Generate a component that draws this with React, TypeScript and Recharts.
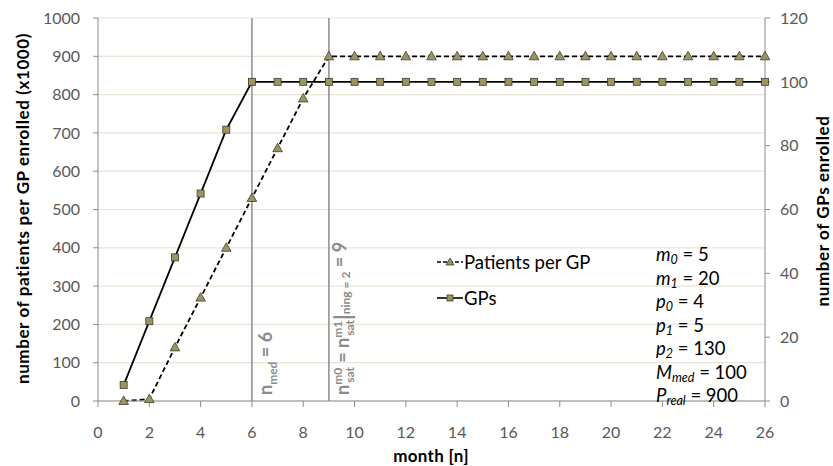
import React from "react";
import {
  ComposedChart,
  Line,
  XAxis,
  YAxis,
  CartesianGrid,
  ReferenceLine,
} from "recharts";

// months 1..26
const months = [
  1, 2, 3, 4, 5, 6, 7, 8, 9, 10, 11, 12, 13, 14, 15, 16, 17, 18, 19, 20, 21,
  22, 23, 24, 25, 26,
];
// patients per GP enrolled (x1000), left axis
const patientsPerGP = [
  0, 5, 140, 270, 400, 530, 660, 790, 900, 900, 900, 900, 900, 900, 900, 900,
  900, 900, 900, 900, 900, 900, 900, 900, 900, 900,
];
// GPs enrolled, right axis
const gps = [
  5, 25, 45, 65, 85, 100, 100, 100, 100, 100, 100, 100, 100, 100, 100, 100, 100,
  100, 100, 100, 100, 100, 100, 100, 100, 100,
];

const xTicks = [0, 2, 4, 6, 8, 10, 12, 14, 16, 18, 20, 22, 24, 26];
const leftTicks = [0, 100, 200, 300, 400, 500, 600, 700, 800, 900, 1000];
const rightTicks = [0, 20, 40, 60, 80, 100, 120];

const params = [
  { sym: "m", sub: "0", val: "5" },
  { sym: "m", sub: "1", val: "20" },
  { sym: "p", sub: "0", val: "4" },
  { sym: "p", sub: "1", val: "5" },
  { sym: "p", sub: "2", val: "130" },
  { sym: "M", sub: "med", val: "100" },
  { sym: "P", sub: "real", val: "900" },
];

const data = months.map((m, i) => ({
  month: m,
  patients: patientsPerGP[i],
  gps: gps[i],
}));

const FONT = "Lato, 'Open Sans', sans-serif";
const MARK_FILL = "#9d9561";
const MARK_STROKE = "#3f3c28";
const TICK = { fontSize: 16, fill: "#595959", fontFamily: FONT };

function Triangle(props: any) {
  const { cx, cy, index } = props;
  if (cx == null || cy == null) return null;
  return (
    <path
      key={"t" + index}
      d={`M${cx},${cy - 5} L${cx + 4.8},${cy + 3.5} L${cx - 4.8},${cy + 3.5} Z`}
      fill={MARK_FILL}
      stroke={MARK_STROKE}
      strokeWidth={0.8}
    />
  );
}

function Square(props: any) {
  const { cx, cy, index } = props;
  if (cx == null || cy == null) return null;
  return (
    <rect
      key={"s" + index}
      x={cx - 3.5}
      y={cy - 3.5}
      width={7}
      height={7}
      fill={MARK_FILL}
      stroke={MARK_STROKE}
      strokeWidth={0.8}
    />
  );
}

function MedLabel(props: any) {
  const { viewBox } = props;
  const x = viewBox.x + 20;
  const y = viewBox.y + viewBox.height - 6;
  return (
    <text
      transform={`translate(${x},${y}) rotate(-90)`}
      fontFamily={FONT}
      fontWeight={700}
      fontSize={18}
      fill="#8c8c8c"
    >
      n
      <tspan fontSize={12} dy={5}>
        med
      </tspan>
      <tspan dy={-5}> = 6</tspan>
    </text>
  );
}

function SatLabel(props: any) {
  const { viewBox } = props;
  const x = viewBox.x + 20;
  const y = viewBox.y + viewBox.height - 6;
  return (
    <text
      transform={`translate(${x},${y}) rotate(-90)`}
      fontFamily={FONT}
      fontWeight={700}
      fontSize={18}
      fill="#8c8c8c"
    >
      n
      <tspan fontSize={12} dy={-7}>
        m0
      </tspan>
      <tspan fontSize={12} dy={12} dx={-15}>
        sat
      </tspan>
      <tspan dy={-5}> = n</tspan>
      <tspan fontSize={12} dy={-7}>
        m1
      </tspan>
      <tspan fontSize={12} dy={12} dx={-15}>
        sat
      </tspan>
      <tspan fontSize={22} dy={-3}>
        |
      </tspan>
      <tspan fontSize={12} dy={-1}>
        ning = 2
      </tspan>
      <tspan dy={-4}> = 9</tspan>
    </text>
  );
}

// axis title drawn inside the chart svg
function AxisTitle(props: any) {
  const { cx, cy, rotate, text, spacing } = props;
  return (
    <text
      transform={`translate(${cx},${cy})${rotate ? " rotate(-90)" : ""}`}
      textAnchor="middle"
      dominantBaseline="central"
      fontFamily={FONT}
      fontWeight={700}
      fontSize={17}
      letterSpacing={spacing}
      fill="#000"
    >
      {text}
    </text>
  );
}

export default function App() {
  return (
    <div
      style={{
        position: "relative",
        width: 833,
        height: 466,
        background: "#ffffff",
        fontFamily: FONT,
      }}
    >
      <style>{"body{margin:0}"}</style>
      <ComposedChart
        width={833}
        height={466}
        data={data}
        margin={{ top: 18, right: 0, bottom: 0, left: 0 }}
      >
        <CartesianGrid
          yAxisId="left"
          vertical={false}
          stroke="#e9e5d6"
          strokeWidth={1.2}
        />
        <XAxis
          dataKey="month"
          type="number"
          domain={[0, 26]}
          ticks={xTicks}
          height={65}
          tick={TICK}
          tickSize={6}
          tickMargin={20}
          stroke="#8c8c8c"
          label={(p: any) => (
            <AxisTitle cx={431} cy={p.viewBox.y + 54} text="month [n]" spacing={0.3} />
          )}
        />
        <YAxis
          yAxisId="left"
          domain={[0, 1000]}
          ticks={leftTicks}
          width={98}
          tick={TICK}
          tickSize={5}
          tickMargin={13}
          stroke="#8c8c8c"
          label={(p: any) => (
            <AxisTitle
              cx={22}
              cy={p.viewBox.y + p.viewBox.height / 2 - 1}
              rotate
              text="number of patients per GP enrolled (x1000)"
              spacing={0.6}
            />
          )}
        />
        <YAxis
          yAxisId="right"
          orientation="right"
          domain={[0, 120]}
          ticks={rightTicks}
          width={68}
          tick={TICK}
          tickSize={5}
          tickMargin={10}
          stroke="#8c8c8c"
          label={(p: any) => (
            <AxisTitle
              cx={p.viewBox.x + 57}
              cy={211}
              rotate
              text="number of GPs enrolled"
              spacing={0.6}
            />
          )}
        />
        <ReferenceLine
          yAxisId="left"
          x={6}
          stroke="#8c8c8c"
          strokeWidth={1.5}
          label={<MedLabel />}
        />
        <ReferenceLine
          yAxisId="left"
          x={9}
          stroke="#8c8c8c"
          strokeWidth={1.5}
          label={<SatLabel />}
        />
        <Line
          yAxisId="left"
          type="linear"
          dataKey="patients"
          name="Patients per GP"
          stroke="#000000"
          strokeWidth={1.8}
          strokeDasharray="5 3"
          dot={<Triangle />}
          activeDot={false}
          isAnimationActive={false}
        />
        <Line
          yAxisId="right"
          type="linear"
          dataKey="gps"
          name="GPs"
          stroke="#000000"
          strokeWidth={1.8}
          dot={<Square />}
          activeDot={false}
          isAnimationActive={false}
        />
      </ComposedChart>

      {/* legend */}
      <div style={{ position: "absolute", left: 437, top: 250, fontSize: 18.5 }}>
        <div style={{ display: "flex", alignItems: "center", height: 24 }}>
          <svg width={26} height={12}>
            <line x1={0} y1={6} x2={26} y2={6} stroke="#000" strokeWidth={1.6} strokeDasharray="4 2" />
            <path d="M13,2 L17,9 L9,9 Z" fill={MARK_FILL} stroke={MARK_STROKE} strokeWidth={0.8} />
          </svg>
          <span style={{ marginLeft: 1 }}>Patients per GP</span>
        </div>
        <div style={{ display: "flex", alignItems: "center", height: 24, marginTop: 12 }}>
          <svg width={26} height={12}>
            <line x1={0} y1={6} x2={26} y2={6} stroke="#000" strokeWidth={1.6} />
            <rect x={10} y={3} width={6} height={6} fill={MARK_FILL} stroke={MARK_STROKE} strokeWidth={0.8} />
          </svg>
          <span style={{ marginLeft: 1 }}>GPs</span>
        </div>
      </div>

      {/* parameters */}
      <div style={{ position: "absolute", left: 656, top: 243, fontSize: 18.5, lineHeight: "23.5px" }}>
        {params.map((p) => (
          <div key={p.sym + p.sub} style={{ whiteSpace: "nowrap", height: 23.5 }}>
            <i>{p.sym}</i>
            <span style={{ fontStyle: "italic", fontSize: 12.5, position: "relative", top: 3, lineHeight: 1 }}>
              {p.sub}
            </span>
            {" = " + p.val}
          </div>
        ))}
      </div>
    </div>
  );
}
